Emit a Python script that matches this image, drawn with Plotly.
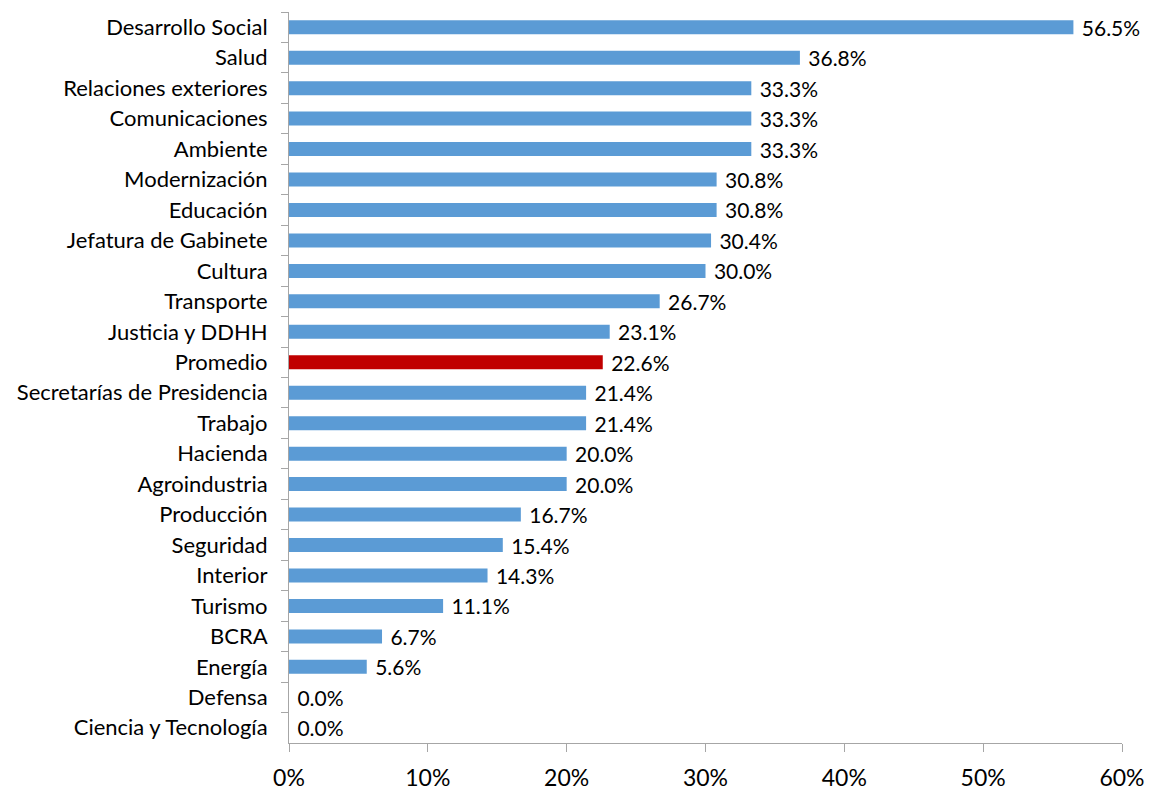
import plotly.graph_objects as go

categories = ["Desarrollo Social", "Salud", "Relaciones exteriores", "Comunicaciones",
              "Ambiente", "Modernización", "Educación", "Jefatura de Gabinete", "Cultura",
              "Transporte", "Justicia y DDHH", "Promedio", "Secretarías de Presidencia",
              "Trabajo", "Hacienda", "Agroindustria", "Producción", "Seguridad", "Interior",
              "Turismo", "BCRA", "Energía", "Defensa", "Ciencia y Tecnología"]
values = [56.5, 36.8, 33.3, 33.3, 33.3, 30.8, 30.8, 30.4, 30.0, 26.7, 23.1, 22.6, 21.4,
          21.4, 20.0, 20.0, 16.7, 15.4, 14.3, 11.1, 6.7, 5.6, 0.0, 0.0]
highlight = "Promedio"
x_ticks = [0, 10, 20, 30, 40, 50, 60]
x_tick_labels = ["0%", "10%", "20%", "30%", "40%", "50%", "60%"]

colors = ["#C00000" if c == highlight else "#5B9BD5" for c in categories]

fig = go.Figure(go.Bar(
    y=categories, x=values, orientation="h",
    marker=dict(color=colors, line=dict(width=0)),
    width=0.46,
    text=[f" {v:.1f}%" for v in values],
    textposition="outside", cliponaxis=False, constraintext="none",
    textfont=dict(size=21, color="#000000"),
))

# page body has an 8px default margin; figure is sized/margined to compensate
fig.update_layout(
    width=1147, height=784,
    margin=dict(l=281, r=33, t=4, b=49, autoexpand=False),
    paper_bgcolor="white", plot_bgcolor="white",
    font=dict(family="Lato, Carlito, sans-serif", color="#000000"),
    showlegend=False,
    xaxis=dict(range=[0, 60], tickvals=x_ticks, ticktext=x_tick_labels,
               showgrid=False, zeroline=False, showline=True, linecolor="#A6A6A6",
               linewidth=1, ticks="outside", ticklen=8, tickcolor="#A6A6A6",
               tickfont=dict(size=23), automargin=False, ticklabelstandoff=6),
    yaxis=dict(autorange="reversed", showgrid=False, showline=True, linecolor="#A6A6A6",
               linewidth=1, ticks="outside", ticklen=7, tickcolor="#A6A6A6",
               tickson="boundaries", tickfont=dict(size=22), automargin=False,
               ticklabelstandoff=16),
)

fig.write_html("out.html")
